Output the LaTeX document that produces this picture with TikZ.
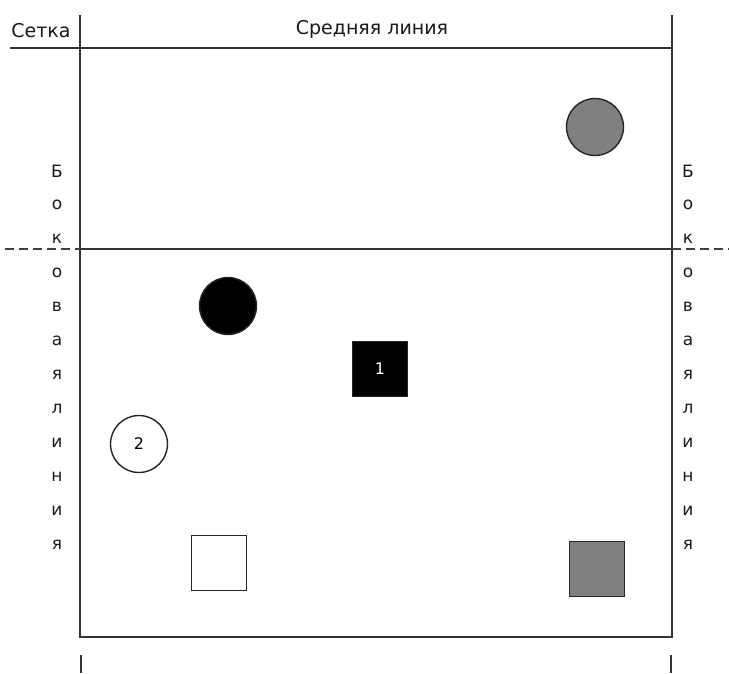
\documentclass[tikz,border=0pt]{standalone}
\usepackage{fontspec}
\setmainfont{DejaVu Sans}
\begin{document}
\begin{tikzpicture}[x=1pt,y=-1pt,
  court/.style={line width=1.4pt, draw=black!80},
  dashline/.style={line width=1.2pt, draw=black!75, dash pattern=on 9pt off 5pt},
  lbl/.style={font=\fontsize{19}{21}\selectfont, text=black!90, inner sep=0pt},
  vlet/.style={font=\fontsize{17}{19}\selectfont, text=black!90, inner sep=0pt},
  player/.style={circle, minimum size=57pt, inner sep=0pt, line width=1.4pt, draw=black!85, font=\fontsize{16}{18}\selectfont},
  blocker/.style={rectangle, minimum size=55pt, inner sep=0pt, line width=1.4pt, draw=black!85, font=\fontsize{16}{18}\selectfont}]
\useasboundingbox (0,0) rectangle (729,673);
\fill[white] (0,0) rectangle (729,673);
% court corners
\coordinate (tl) at (80,15);
\coordinate (tr) at (672,15);
\coordinate (nl) at (10,48);
\coordinate (nr) at (672,48);
\coordinate (ml) at (80,249);
\coordinate (mr) at (672,249);
\coordinate (bl) at (80,637);
\coordinate (br) at (672,637);
\coordinate (dl) at (5,249);
\coordinate (dr) at (729,249);
\coordinate (tkl1) at (81,655);
\coordinate (tkl2) at (81,673);
\coordinate (tkr1) at (671,655);
\coordinate (tkr2) at (671,673);
% lines
\draw[court] (nl) -- (nr);
\draw[court] (tl) -- (bl) -- (br) -- (tr);
\draw[court] (ml) -- (mr);
\draw[dashline] (dl) -- (ml);
\draw[dashline] (mr) -- (dr);
\draw[court] (tkl1) -- (tkl2);
\draw[court] (tkr1) -- (tkr2);
% labels
\node[lbl] (setka) at (41,31) {Сетка};
\node[lbl] (mid) at (372,29) {Средняя линия};
\foreach \c [count=\i from 0] in {Б,о,к,о,в,а,я,л,и,н,и,я}{
  \node[vlet] (L\i) at (57,171+34*\i) {\c};
  \node[vlet] (R\i) at (688,171+34*\i) {\c};
}
% players
\node[player, fill=black!50] (g1) at (595,127) {};
\node[player, fill=black] (b1) at (228,306) {};
\node[blocker, fill=black, text=white] (p1) at (380,369) {1};
\node[player, fill=white] (p2) at (139,444) {2};
\node[blocker, fill=white] (w1) at (219,563) {};
\node[blocker, fill=black!50] (g2) at (597,569) {};
\end{tikzpicture}
\end{document}
